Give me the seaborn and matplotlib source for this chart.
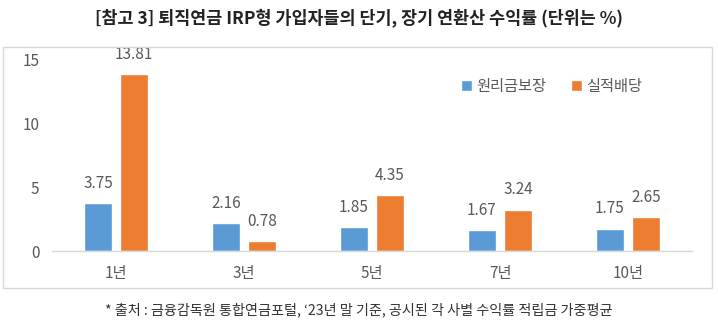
import matplotlib
matplotlib.use("Agg")
import matplotlib.pyplot as plt
import seaborn as sns
import pandas as pd
from matplotlib.patches import Rectangle

periods = ["1년", "3년", "5년", "7년", "10년"]
principal = [3.75, 2.16, 1.85, 1.67, 1.75]
performance = [13.81, 0.78, 4.35, 3.24, 2.65]
series_names = ["원리금보장", "실적배당"]
yticks = [0, 5, 10, 15]

df = pd.DataFrame({
    "period": periods * 2,
    "value": principal + performance,
    "series": [series_names[0]] * len(periods) + [series_names[1]] * len(periods),
})

sns.set_theme(style="white")
plt.rcParams['font.family'] = ['Noto Sans CJK KR', 'DejaVu Sans']

fig = plt.figure(figsize=(7.18, 3.23), dpi=100)
ax = fig.add_axes([52/718, (323-251)/323, 640/718, 192/323])

palette = {series_names[0]: "#5B9BD5", series_names[1]: "#ED7D31"}
sns.barplot(data=df, x="period", y="value", hue="series", order=periods,
            hue_order=series_names, palette=palette, width=0.5625, gap=0.22,
            ax=ax, saturation=1)

for cont in ax.containers:
    ax.bar_label(cont, fmt="%.2f", padding=8, fontsize=11, color="#595959")

ax.set_ylim(0, 15)
ax.set_yticks(yticks)
ax.set_xlim(-0.5, 4.5)
ax.set_xlabel("")
ax.set_ylabel("")
ax.tick_params(axis="both", length=0, labelsize=11, colors="#595959")
ax.tick_params(axis="y", pad=9)
ax.tick_params(axis="x", pad=10)
for s in ["top", "right", "left"]:
    ax.spines[s].set_visible(False)
ax.spines["bottom"].set_color("#D9D9D9")
ax.spines["bottom"].set_linewidth(1)
ax.patch.set_alpha(0)

leg = ax.legend(loc="upper left", bbox_to_anchor=(0.618, 0.975), ncol=2, frameon=False,
                fontsize=11, handlelength=0.7, handleheight=0.7, handletextpad=0.3,
                columnspacing=1.6)
for t in leg.get_texts():
    t.set_color("#595959")

fig.patches.append(Rectangle((3/718, (323-288)/323), 709/718, 241/323,
                             transform=fig.transFigure, fill=False,
                             edgecolor="#D9D9D9", linewidth=1, zorder=0))

fig.text(0.5, 1 - 18/323, "[참고 3] 퇴직연금 IRP형 가입자들의 단기, 장기 연환산 수익률 (단위는 %)",
         ha="center", va="center", fontsize=12.5, fontweight="bold", color="#222222")
fig.text(0.5, 1 - 310/323, "* 출처 : 금융감독원 통합연금포털, ‘23년 말 기준, 공시된 각 사별 수익률 적립금 가중평균",
         ha="center", va="center", fontsize=10.2, color="#333333")

fig.savefig("out.png", dpi=100)
